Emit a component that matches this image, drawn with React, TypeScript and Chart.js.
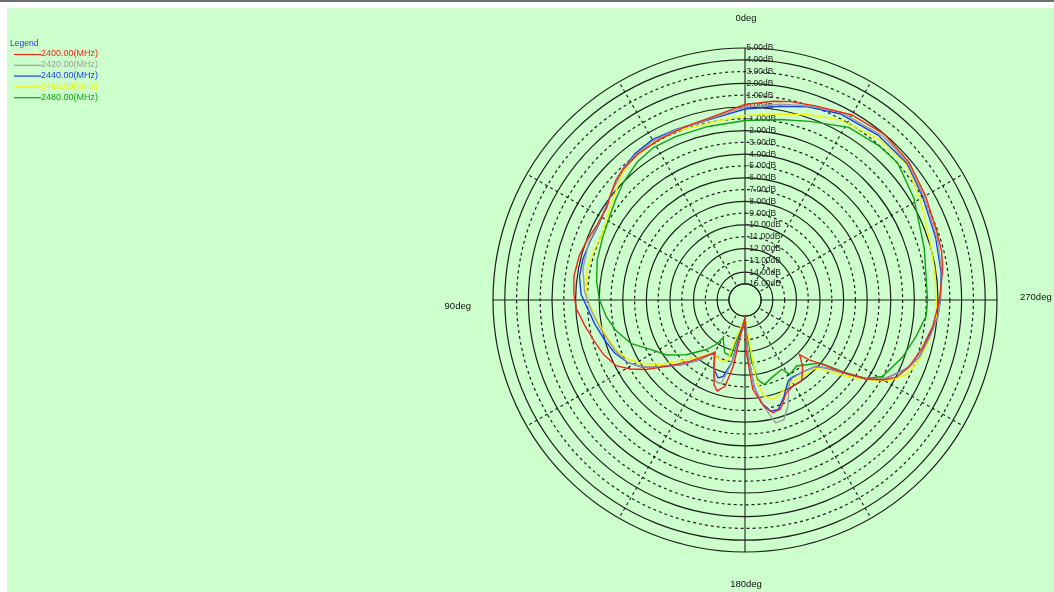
import React, { useEffect, useRef } from 'react';
import { Chart, registerables } from 'chart.js';

Chart.register(...registerables);

// ---- data (angle in degrees, counter-clockwise from top; gain in dB) ----
const SERIES_NAMES = ['2400.00(MHz)', '2420.00(MHz)', '2440.00(MHz)', '2460.00(MHz)', '2480.00(MHz)'];
const SERIES_COLORS = ['#f02818', '#9c9c9c', '#1a3cf0', '#f4f400', '#12a012'];

const ANGLES_2400 = [0, 11, 19, 28, 36, 43, 47, 52, 56, 63, 69, 75, 82, 88, 93, 99, 105, 111, 117, 121, 125, 131, 138, 145, 150, 156, 160, 163, 167, 170, 172, 180, 181, 185, 190, 194, 198, 204, 209, 215, 221, 225, 227, 231, 234, 237, 240, 243, 248, 255, 262, 270, 279, 284, 290, 300, 310, 320, 330, 340, 347, 352];
const DB_2400 = [0.21, -0.63, -0.81, -0.94, -1.01, -1.2, -1.41, -1.89, -2.25, -2.3, -2.05, -1.82, -1.72, -1.85, -2.05, -2.6, -3.1, -3.5, -4.1, -5.0, -6.1, -7.85, -9.36, -10.57, -11.19, -9.89, -8.7, -8.3, -8.85, -10.65, -12.98, -14.8, -12.16, -8.74, -7.23, -6.51, -6.63, -7.75, -8.01, -7.99, -8.91, -9.82, -8.92, -7.48, -5.79, -4.07, -2.81, -1.95, -1.33, -0.79, -0.29, 0.13, 0.6, 0.81, 0.91, 1.3, 1.8, 2.0, 1.75, 1.15, 0.9, 0.65];

const ANGLES_2420 = [0, 11, 22, 30, 37, 43, 50, 55, 62, 70, 79, 87, 94, 102, 111, 118, 123, 128, 135, 143, 150, 156, 160, 164, 168, 172, 180, 183, 186, 190, 194, 198, 202, 208, 211, 220, 227, 230, 234, 237, 241, 247, 252, 259, 265, 270, 278, 288, 300, 310, 320, 333, 342, 350];
const DB_2420 = [0.0, -0.7, -0.8, -0.8, -0.95, -1.2, -1.75, -2.15, -2.35, -2.25, -2.37, -2.74, -3.3, -3.92, -4.53, -5.1, -5.95, -7.2, -8.6, -10.0, -11.2, -9.9, -9.0, -9.0, -10.8, -13.1, -14.8, -12.0, -9.0, -7.2, -5.62, -5.69, -6.65, -8.39, -8.6, -8.5, -8.1, -7.4, -5.75, -4.07, -2.7, -1.45, -0.8, -0.35, 0.05, 0.18, 0.5, 0.75, 1.15, 1.7, 1.8, 1.5, 0.95, 0.5];

const ANGLES_2440 = [0, 11, 22, 30, 37, 43, 50, 55, 62, 70, 76, 82, 88, 92, 99, 106, 112, 118, 123, 128, 135, 143, 150, 156, 161, 164, 168, 171, 180, 183, 186, 189, 193, 197, 202, 208, 211, 220, 227, 230, 234, 237, 241, 247, 252, 259, 265, 270, 278, 288, 300, 310, 321, 333, 342, 350];
const DB_2440 = [-0.17, -0.76, -0.77, -0.67, -0.85, -1.2, -1.75, -2.11, -2.4, -2.31, -2.19, -2.19, -2.46, -2.89, -3.46, -3.99, -4.42, -5.08, -5.92, -7.19, -8.57, -10.01, -11.25, -9.92, -9.37, -9.63, -10.91, -13.25, -14.8, -11.87, -9.01, -7.53, -6.68, -6.67, -7.54, -8.58, -8.69, -8.49, -8.12, -7.39, -5.7, -4.07, -2.69, -1.48, -0.82, -0.42, 0.04, 0.21, 0.43, 0.64, 1.05, 1.6, 1.6, 1.36, 0.85, 0.32];

const ANGLES_2460 = [0, 11, 22, 30, 39, 44, 49, 56, 65, 71, 78, 84, 90, 96, 103, 111, 117, 122, 127, 132, 140, 149, 157, 161, 164, 167, 180, 188, 191, 196, 200, 205, 211, 215, 226, 229, 233, 238, 241, 245, 251, 258, 265, 270, 279, 288, 300, 310, 320, 332, 341, 350];
const DB_2460 = [-0.72, -1.04, -0.91, -0.91, -1.12, -1.41, -1.97, -2.55, -3.03, -2.91, -2.73, -2.82, -3.03, -3.53, -4.13, -4.61, -5.27, -6.16, -7.28, -8.55, -9.95, -11.12, -10.87, -10.83, -11.11, -13.09, -14.8, -9.55, -8.07, -7.6, -7.83, -8.14, -8.37, -8.31, -8.03, -7.3, -5.62, -3.53, -2.31, -1.31, -0.73, -0.36, -0.09, -0.15, -0.09, 0.1, 0.78, 1.5, 1.39, 0.91, 0.25, -0.36];

const ANGLES_2480 = [0, 12, 23, 31, 38, 46, 52, 59, 66, 75, 83, 90, 97, 103, 111, 117, 125, 133, 142, 147, 150, 159, 166, 168, 180, 186, 189, 193, 199, 208, 211, 218, 230, 234, 237, 241, 250, 258, 265, 270, 286, 301, 312, 319, 329, 340, 349];
const DB_2480 = [-1.14, -1.32, -1.31, -1.28, -1.52, -2.03, -2.47, -2.92, -3.17, -3.39, -3.69, -4.03, -4.53, -5.08, -6.03, -7.24, -8.24, -9.56, -11.03, -11.86, -12.64, -11.56, -11.45, -12.92, -14.8, -11.29, -9.53, -9.01, -9.4, -9.71, -9.0, -9.26, -8.06, -5.92, -4.15, -3.01, -2.16, -1.53, -0.94, -0.89, -0.55, 0.35, 1.04, 0.96, 0.71, -0.25, -0.78];

const SERIES_ANGLES = [ANGLES_2400, ANGLES_2420, ANGLES_2440, ANGLES_2460, ANGLES_2480];
const SERIES_DB = [DB_2400, DB_2420, DB_2440, DB_2460, DB_2480];

const RING_LABEL_MIN = -15;
const RING_LABEL_MAX = 5;
const RADIAL_MIN = -16.36;
const DIRECTION_LABELS = ['0deg', '90deg', '180deg', '270deg'];
const LEGEND_TITLE = 'Legend';

// ---- styling ----
const BG = '#ccffcc';
const GRID = '#1e1e1e';
const FONT = '"Liberation Sans", Arial, sans-serif';
const W = 1054;
const H = 592;

const ANGLE_COUNT = 360;
// radar labels run clockwise from the top; the reference counts degrees counter-clockwise
const RADAR_LABELS = Array.from({ length: ANGLE_COUNT }, (_, i) => `${(ANGLE_COUNT - i) % ANGLE_COUNT}deg`);

function toRadarData(angles: number[], values: number[]) {
  const data: (number | null)[] = new Array(ANGLE_COUNT).fill(null);
  angles.forEach((a, k) => {
    data[(ANGLE_COUNT - a) % ANGLE_COUNT] = values[k];
  });
  return data;
}

function isWhole(v: number) {
  return Math.abs(v - Math.round(v)) < 1e-6;
}

const polarDecor = {
  id: 'polarDecor',
  beforeDatasetsDraw(chart: any) {
    const s = chart.scales.r;
    const ctx = chart.ctx as CanvasRenderingContext2D;
    const cx = s.xCenter;
    const cy = s.yCenter;
    const rHole = s.getDistanceFromCenterForValue(RING_LABEL_MIN);
    ctx.save();
    ctx.beginPath();
    ctx.arc(cx, cy, rHole - 0.6, 0, Math.PI * 2);
    ctx.fillStyle = BG;
    ctx.fill();
    ctx.beginPath();
    ctx.arc(cx, cy, rHole, 0, Math.PI * 2);
    ctx.setLineDash([]);
    ctx.strokeStyle = GRID;
    ctx.lineWidth = 1.2;
    ctx.stroke();

    ctx.font = `8.5px ${FONT}`;
    ctx.fillStyle = '#262626';
    ctx.textAlign = 'left';
    ctx.textBaseline = 'middle';
    s.ticks.forEach((t: any) => {
      if (t.value < RING_LABEL_MIN - 1e-6 || t.value > RING_LABEL_MAX + 1e-6 || !isWhole(t.value)) return;
      const r = s.getDistanceFromCenterForValue(t.value);
      const v = Math.round(t.value);
      ctx.fillText(`${(v === 0 ? 0 : v).toFixed(2)}dB`, cx + 1.5, cy - r);
    });

    const R = s.drawingArea;
    ctx.font = `9.5px ${FONT}`;
    ctx.fillStyle = '#111111';
    ctx.textAlign = 'center';
    ctx.fillText(DIRECTION_LABELS[0], cx + 1, cy - R - 30);
    ctx.fillText(DIRECTION_LABELS[2], cx + 1, cy + R + 32);
    ctx.textAlign = 'right';
    ctx.fillText(DIRECTION_LABELS[1], cx - R - 22, cy + 6);
    ctx.textAlign = 'left';
    ctx.fillText(DIRECTION_LABELS[3], cx + R + 23, cy - 3);
    ctx.restore();
  },
  afterDraw(chart: any) {
    const ctx = chart.ctx as CanvasRenderingContext2D;
    ctx.save();
    ctx.textAlign = 'left';
    ctx.textBaseline = 'middle';
    ctx.font = `8.5px ${FONT}`;
    ctx.fillStyle = '#1e3ce6';
    ctx.fillText(LEGEND_TITLE, 10, 44);
    chart.data.datasets.forEach((ds: any, i: number) => {
      const y = 54 + i * 10.8;
      ctx.beginPath();
      ctx.moveTo(14, y + 0.5);
      ctx.lineTo(41, y + 0.5);
      ctx.strokeStyle = ds.borderColor;
      ctx.lineWidth = 1.2;
      ctx.stroke();
      ctx.font = `9px ${FONT}`;
      ctx.fillStyle = ds.borderColor;
      ctx.fillText(ds.label, 41, y);
    });
    ctx.restore();
  },
};

export default function App() {
  const canvasRef = useRef<HTMLCanvasElement | null>(null);

  useEffect(() => {
    const canvas = canvasRef.current;
    if (!canvas) return;
    const chart = new Chart(canvas, {
      type: 'radar',
      data: {
        labels: RADAR_LABELS,
        datasets: SERIES_NAMES.map((name, i) => ({
          label: name,
          data: toRadarData(SERIES_ANGLES[i], SERIES_DB[i]),
          borderColor: SERIES_COLORS[i],
          backgroundColor: SERIES_COLORS[i],
          borderWidth: 1.4,
          pointRadius: 0,
          pointHoverRadius: 0,
          fill: false,
          spanGaps: true,
          tension: 0,
        })),
      },
      options: {
        animation: false,
        responsive: false,
        maintainAspectRatio: false,
        layout: { padding: { left: 493, top: 48, right: 57, bottom: 40 } },
        plugins: {
          legend: { display: false },
          tooltip: { enabled: false },
          title: { display: false },
        },
        scales: {
          r: {
            min: RADIAL_MIN,
            max: RING_LABEL_MAX,
            startAngle: 0,
            ticks: { display: false, stepSize: 1 },
            pointLabels: { display: false },
            grid: {
              circular: true,
              lineWidth: 1.2,
              color: (c: any) => (c.tick && c.tick.value >= RING_LABEL_MIN - 1e-6 ? GRID : 'transparent'),
            },
            border: {
              dash: (c: any) => {
                const v = c.tick ? c.tick.value : 0;
                if (!isWhole(v)) return [];
                const iv = Math.round(v);
                if (iv === RING_LABEL_MAX || iv === RING_LABEL_MIN) return [];
                return Math.abs(iv) % 2 === 1 ? [3, 3] : [];
              },
            },
            angleLines: {
              display: true,
              lineWidth: 1.1,
              color: (c: any) => (c.index % 30 === 0 ? GRID : 'transparent'),
              borderDash: (c: any) => (c.index % 90 === 0 ? [] : [3, 3]),
            },
          },
        },
      },
      plugins: [polarDecor],
    } as any);
    return () => chart.destroy();
  }, []);

  return (
    <div style={{ position: 'fixed', left: 0, top: 0, width: W, height: H, background: '#ffffff', overflow: 'hidden' }}>
      <div style={{ position: 'absolute', left: 0, top: 0, width: W, height: 2, background: '#6e6e6e' }} />
      <div style={{ position: 'absolute', left: 7, top: 8, right: 0, bottom: 0, background: BG }} />
      <canvas ref={canvasRef} width={W} height={H} style={{ position: 'absolute', left: 0, top: 0 }} />
    </div>
  );
}
